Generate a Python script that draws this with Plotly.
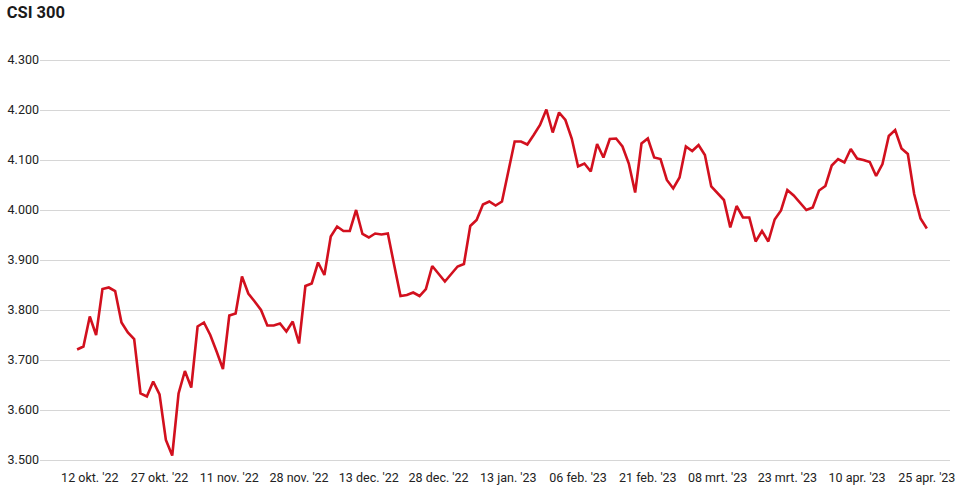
import plotly.graph_objects as go
import pandas as pd

# trading days (Shanghai), Oct 10 2022 - Apr 25 2023
holidays = ["2023-01-02", "2023-01-23", "2023-01-24", "2023-01-25",
            "2023-01-26", "2023-01-27", "2023-04-05"]
days = pd.bdate_range("2022-10-10", "2023-04-25")
days = [d for d in days if d.strftime("%Y-%m-%d") not in holidays]
dates = [d.strftime("%Y-%m-%d") for d in days]

csi300 = [
    3721, 3727, 3787, 3750, 3842, 3845, 3838, 3775, 3755, 3742,
    3633, 3627, 3657, 3631, 3540, 3509, 3633, 3678, 3645, 3767,
    3775, 3750, 3717, 3682, 3789, 3793, 3867, 3833, 3817, 3800,
    3769, 3769, 3773, 3757, 3777, 3733, 3848, 3853, 3895, 3870,
    3947, 3967, 3958, 3958, 4000, 3952, 3945, 3953, 3951, 3953,
    3890, 3828, 3830, 3835, 3828, 3842, 3888, 3872, 3857, 3872,
    3887, 3892, 3968, 3980, 4011, 4017, 4009, 4017, 4077, 4137,
    4137, 4131, 4150, 4170, 4201, 4155, 4195, 4180, 4143, 4087,
    4093, 4077, 4132, 4105, 4142, 4143, 4127, 4093, 4035, 4133,
    4143, 4105, 4102, 4060, 4043, 4065, 4127, 4118, 4130, 4110,
    4047, 4033, 4020, 3965, 4008, 3985, 3985, 3937, 3958, 3937,
    3981, 3999, 4040, 4029, 4015, 4000, 4005, 4039, 4048, 4089,
    4102, 4095, 4122, 4103, 4100, 4096, 4068, 4092, 4148, 4160,
    4123, 4112, 4032, 3983, 3963,
]

tick_dates = ["2022-10-12", "2022-10-27", "2022-11-11", "2022-11-28",
              "2022-12-13", "2022-12-28", "2023-01-13", "2023-02-06",
              "2023-02-21", "2023-03-08", "2023-03-23", "2023-04-10",
              "2023-04-25"]
tick_text = ["12 okt. '22", "27 okt. '22", "11 nov. '22", "28 nov. '22",
             "13 dec. '22", "28 dec. '22", "13 jan. '23", "06 feb. '23",
             "21 feb. '23", "08 mrt. '23", "23 mrt. '23", "10 apr. '23",
             "25 apr. '23"]

font = "Roboto, sans-serif"

fig = go.Figure(go.Scatter(x=dates, y=csi300, mode="lines",
                           line=dict(color="#d2101e", width=2.6),
                           hoverinfo="x+y"))

fig.update_layout(
    width=962, height=503,
    margin=dict(t=58, b=41, l=40, r=7),
    paper_bgcolor="white", plot_bgcolor="white",
    separators=",.",
    showlegend=False,
    font=dict(family=font, size=12.5, color="#222222"),
    title=dict(text="<b>CSI 300</b>", x=0.007, xanchor="left",
               y=0.988, yanchor="top",
               font=dict(family=font, size=16.5, color="#1a1a1a")),
    xaxis=dict(type="category", range=[-5.85, 137.65],
               tickvals=tick_dates, ticktext=tick_text,
               showgrid=False, zeroline=False, showline=False,
               ticks="", ticklabelstandoff=6, tickfont=dict(size=12.5)),
    yaxis=dict(range=[3496, 4304], tickvals=list(range(3500, 4301, 100)),
               tickformat=",d",
               showgrid=True, gridcolor="#d6d6d6", gridwidth=1,
               zeroline=False, showline=False, ticks="",
               tickfont=dict(size=12.5)),
)

fig.write_html("out.html", config={"displayModeBar": False},
               post_script="document.body.style.margin='0';")
